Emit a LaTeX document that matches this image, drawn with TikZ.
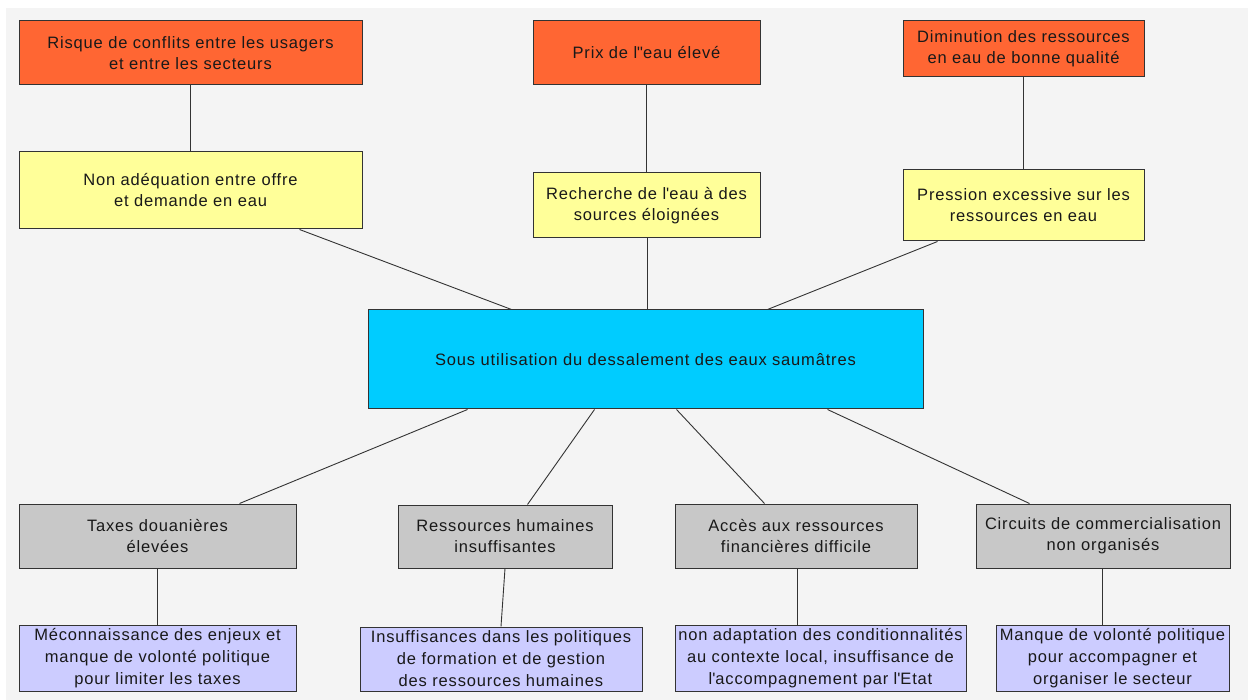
\documentclass[tikz,border=0pt]{standalone}
\usepackage{fontspec}
\setmainfont[LetterSpace=5]{Liberation Sans}
\newcommand{\apos}{\textquotesingle}
\definecolor{pagebg}{HTML}{F4F4F4}
\definecolor{effetred}{HTML}{FF6633}
\definecolor{causeyellow}{HTML}{FFFF99}
\definecolor{coreblue}{HTML}{00CCFF}
\definecolor{causegray}{HTML}{C8C8C8}
\definecolor{rootviolet}{HTML}{CCCCFF}
\definecolor{edge}{HTML}{333333}
\begin{document}
\begin{tikzpicture}[x=1pt,y=-1pt,
  box/.style={draw=edge, line width=1pt, rectangle, inner sep=0pt, align=center,
    text=black!90, font=\fontsize{16.5}{21}\selectfont},
  effet/.style={box, fill=effetred},
  consq/.style={box, fill=causeyellow},
  probleme/.style={box, fill=coreblue},
  cause/.style={box, fill=causegray},
  racine/.style={box, fill=rootviolet, font=\fontsize{16.5}{22}\selectfont},
  link/.style={draw=edge, line width=0.9pt}]
\useasboundingbox (0,0) rectangle (1248,700);
\fill[white] (0,0) rectangle (1248,700);
\fill[pagebg] (6,8) rectangle (1248,700);

% effects (top row)
\node[effet, minimum width=343, minimum height=64] (R1) at (190.5,53)
  {Risque de conflits entre les usagers\\et entre les secteurs};
\node[effet, minimum width=227, minimum height=64] (R2) at (646.5,53)
  {Prix de l\textquotedbl eau élevé};
\node[effet, minimum width=241, minimum height=56] (R3) at (1023.5,49)
  {Diminution des ressources\\en eau de bonne qualité};

% direct consequences
\node[consq, minimum width=343, minimum height=77] (Y1) at (190.5,190.5)
  {Non adéquation entre offre\\et demande en eau};
\node[consq, minimum width=227, minimum height=65] (Y2) at (646.5,205.5)
  {Recherche de l\apos eau à des\\sources éloignées};
\node[consq, minimum width=241, minimum height=71] (Y3) at (1023.5,205.5)
  {Pression excessive sur les\\ressources en eau};

% core problem
\node[probleme, minimum width=555, minimum height=99] (C) at (645.5,359.5)
  {Sous utilisation du dessalement des eaux saumâtres};

% causes
\node[cause, minimum width=277, minimum height=64] (G1) at (157.5,536)
  {Taxes douanières\\élevées};
\node[cause, minimum width=214, minimum height=63] (G2) at (505,536.5)
  {Ressources humaines\\insuffisantes};
\node[cause, minimum width=242, minimum height=64] (G3) at (796,536)
  {Accès aux ressources\\financières difficile};
\node[cause, minimum width=254, minimum height=64] (G4) at (1103,536)
  {Circuits de commercialisation\\non organisés};

% root causes
\node[racine, minimum width=277, minimum height=66] (P1) at (157.5,658)
  {Méconnaissance des enjeux et\\manque de volonté politique\\pour limiter les taxes};
\node[racine, minimum width=282, minimum height=64] (P2) at (501,659)
  {Insuffisances dans les politiques\\de formation et de gestion\\des ressources humaines};
\node[racine, minimum width=291, minimum height=66] (P3) at (820.5,658)
  {non adaptation des conditionnalités\\au contexte local, insuffisance de\\l\apos accompagnement par l\apos Etat};
\node[racine, minimum width=233, minimum height=66] (P4) at (1112.5,658)
  {Manque de volonté politique\\pour accompagner et\\organiser le secteur};

% links, top half
\draw[link] (R1.south) -- (Y1.north);
\draw[link] (R2.south) -- (Y2.north);
\draw[link] (R3.south) -- (Y3.north);
\draw[link] ([xshift=281]Y1.south west) -- ([xshift=144]C.north west);
\draw[link] ([xshift=0.5]Y2.south) -- ([xshift=0.5]Y2.south |- C.north);
\draw[link] ([xshift=35]Y3.south west) -- ([xshift=400]C.north west);

% links, bottom half
\draw[link] ([xshift=100]C.south west) -- ([xshift=221]G1.north west);
\draw[link] ([xshift=227]C.south west) -- ([xshift=130]G2.north west);
\draw[link] ([xshift=309]C.south west) -- ([xshift=90]G3.north west);
\draw[link] ([xshift=460]C.south west) -- ([xshift=54]G4.north west);
\draw[link] (G1.south) -- (P1.north);
\draw[link] (G2.south) -- (P2.north);
\draw[link] ([xshift=1]G3.south) -- ([xshift=1]G3.south |- P3.north);
\draw[link] ([xshift=-1]G4.south) -- ([xshift=-1]G4.south |- P4.north);
\end{tikzpicture}
\end{document}
